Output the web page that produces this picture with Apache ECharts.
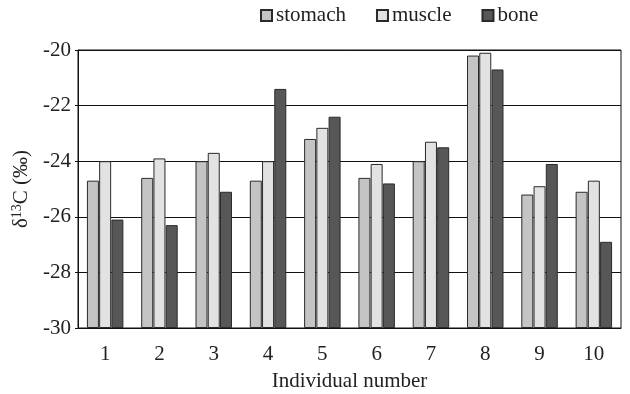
<!DOCTYPE html>
<html>
<head>
<meta charset="utf-8">
<script src="https://cdn.jsdelivr.net/npm/echarts@6/dist/echarts.min.js"></script>
<style>html,body{margin:0;padding:0;background:#fff;overflow:hidden}#c{width:630px;height:394px}</style>
</head>
<body>
<div id="c"></div>
<script>
const categories = ['1','2','3','4','5','6','7','8','9','10'];
const stomach = [-24.7, -24.6, -24.0, -24.7, -23.2, -24.6, -24.0, -20.2, -25.2, -25.1];
const muscle  = [-24.0, -23.9, -23.7, -24.0, -22.8, -24.1, -23.3, -20.1, -24.9, -24.7];
const bone    = [-26.1, -26.3, -25.1, -21.4, -22.4, -24.8, -23.5, -20.7, -24.1, -26.9];
const seriesNames = ['stomach', 'muscle', 'bone'];
const yTickValues = [-30, -28, -26, -24, -22, -20];

const FONT = 'Liberation Serif';
const fills = ['#c4c4c4', '#e2e2e2', '#575757'];
const dataSets = [stomach, muscle, bone];
// bars grow up from the axis floor (-30), so the value axis is laid out relative to that floor
const floor = yTickValues[0];

const chart = echarts.init(document.getElementById('c'), null, { renderer: 'canvas', width: 630, height: 394 });
chart.setOption({
  animation: false,
  backgroundColor: '#fff',
  textStyle: { fontFamily: FONT, color: '#222' },
  legend: {
    left: 255, top: 0,
    itemWidth: 11, itemHeight: 11, itemGap: 30,
    icon: 'rect',
    textStyle: { fontFamily: FONT, fontSize: 21, color: '#222', padding: [0, 0, 0, -1] },
    data: seriesNames
  },
  grid: { left: 78, right: 9, top: 50, bottom: 66, show: true, borderColor: '#111', borderWidth: 1, containLabel: false, outerBoundsMode: 'none' },
  xAxis: {
    type: 'category',
    data: categories,
    name: 'Individual number',
    nameLocation: 'middle',
    nameGap: 43,
    nameTextStyle: { fontFamily: FONT, fontSize: 21, color: '#222' },
    axisLine: { lineStyle: { color: '#111', width: 1 } },
    axisTick: { inside: true, length: 6, lineStyle: { color: '#111' } },
    axisLabel: { fontFamily: FONT, fontSize: 21, color: '#222', margin: 16 }
  },
  yAxis: {
    type: 'value',
    min: 0, max: yTickValues[yTickValues.length - 1] - floor, interval: 2,
    name: '{a|δ}{s|13}{a|C (‰)}',
    nameLocation: 'middle',
    nameGap: 36,
    nameRotate: 90,
    nameTextStyle: {
      fontFamily: FONT, fontSize: 21, color: '#222',
      rich: {
        a: { fontFamily: FONT, fontSize: 21, color: '#222' },
        s: { fontFamily: FONT, fontSize: 14, color: '#222', verticalAlign: 'top', padding: [0, 0, 8, 0] }
      }
    },
    axisLine: { show: true, lineStyle: { color: '#111', width: 1 } },
    axisTick: { show: true, length: 3, lineStyle: { color: '#111' } },
    axisLabel: { fontFamily: FONT, fontSize: 21, color: '#222', margin: 7, formatter: v => String(v + floor) },
    splitLine: { show: true, lineStyle: { color: '#111', width: 1.2 } }
  },
  series: seriesNames.map((n, i) => ({
    name: n,
    type: 'bar',
    data: dataSets[i].map(v => +(v - floor).toFixed(3)),
    barWidth: 12,
    barGap: '2%',
    itemStyle: { color: fills[i], borderColor: '#2a2a2a', borderWidth: 1 }
  }))
});
</script>
</body>
</html>
